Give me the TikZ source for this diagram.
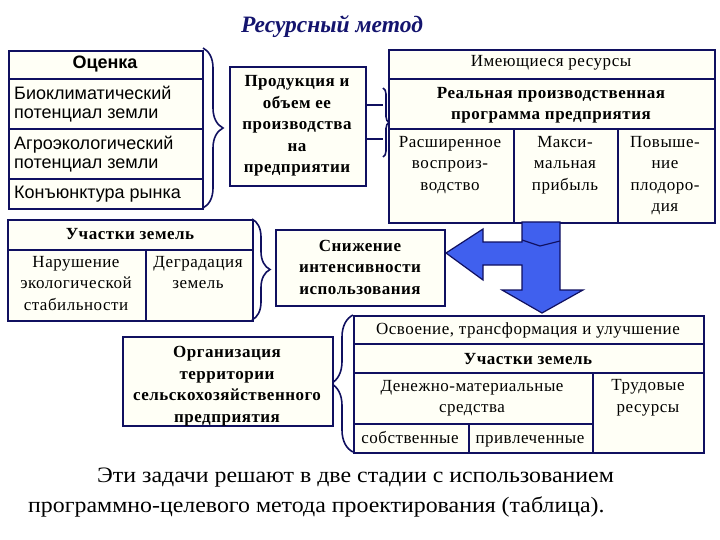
\documentclass[tikz,border=0pt]{standalone}
\usepackage{fontspec}
\setmainfont{Liberation Serif}
\newfontfamily\sansf{Liberation Sans}
\newfontfamily\cellfont[LetterSpace=3]{Liberation Serif}
\newfontfamily\bigfont[FakeStretch=1.085]{Liberation Serif}
\usetikzlibrary{decorations.pathreplacing,calc}
\definecolor{navy}{RGB}{16,16,96}
\definecolor{titleblue}{RGB}{20,20,110}
\definecolor{cream}{RGB}{255,255,246}
\definecolor{arrowblue}{RGB}{64,96,238}
\newcommand\mkcell[5]{\node[cellbox, minimum width={(#4)-(#2)}, minimum height={(#5)-(#3)}] (#1) at (#2,#3) {};}
\begin{document}
\begin{tikzpicture}[x=1pt,y=-1pt,
  cellbox/.style={draw=navy, line width=1.6pt, fill=cream, inner sep=0pt, anchor=north west},
  txt/.style={inner sep=0pt, align=center, font=\cellfont\fontsize{17}{21.5}\selectfont},
  btxt/.style={inner sep=0pt, align=center, font=\cellfont\fontsize{17}{21.5}\selectfont\bfseries},
  stxt/.style={inner sep=0pt, align=left, anchor=west, font=\sansf\fontsize{18}{19}\selectfont},
  bracestyle/.style={draw=navy, line width=1.6pt, decorate, decoration={brace, amplitude=#1}},
  conn/.style={draw=navy, line width=1.6pt},
  blue arrow/.style={draw=navy, line width=1.2pt, fill=arrowblue, line join=miter}
]
\useasboundingbox (0,0) rectangle (720,540);
\fill[white] (0,0) rectangle (720,540);

% title
\node[font=\fontsize{23.5}{26}\selectfont\bfseries\itshape, text=titleblue] (title) at (332,27) {Ресурсный метод};

% left table
\mkcell{oc}{8}{50}{202}{78}
\mkcell{bio}{8}{78}{202}{128}
\mkcell{agro}{8}{128}{202}{178}
\mkcell{kon}{8}{178}{202}{208}
\node[inner sep=0pt, font=\sansf\bfseries\fontsize{18}{19}\selectfont] (tOc) at (105,64) {Оценка};
\node[stxt] (tBio) at (14,104) {Биоклиматический\\потенциал земли};
\node[stxt] (tAgro) at (14,154) {Агроэкологический\\потенциал земли};
\node[stxt] (tKon) at (14,194) {Конъюнктура рынка};
\draw[bracestyle=20] (203,48) -- (203,208);

% production box
\mkcell{P}{229}{66}{365}{185}
\node[btxt] (tP) at (297,126) {Продукция и\\объем ее\\производства\\на\\предприятии};
\coordinate (k1) at (383,105);
\coordinate (k2) at (383,139);
\draw[conn] (P.east |- k1) -- (k1);
\draw[conn] (P.east |- k2) -- (k2);
\draw[bracestyle=6] (383,88) -- (383,157);

% right table
\mkcell{im}{388}{49}{714}{78}
\mkcell{real}{388}{78}{714}{128}
\mkcell{ras}{388}{128}{513}{222}
\mkcell{max}{513}{128}{617}{222}
\mkcell{pov}{617}{128}{714}{222}
\node[txt] (tIm) at (551,63) {Имеющиеся ресурсы};
\node[btxt] (tReal) at (551,105) {Реальная производственная\\программа предприятия};
\node[txt, anchor=north] (tRas) at (450,136) {Расширенное\\воспроиз-\\водство};
\node[txt, anchor=north] (tMax) at (565,136) {Макси-\\мальная\\прибыль};
\node[txt, anchor=north] (tPov) at (665,136) {Повыше-\\ние\\плодоро-\\дия};

% land plots table
\mkcell{uch}{7}{219}{252}{249}
\mkcell{nar}{7}{249}{145}{320}
\mkcell{deg}{145}{249}{252}{320}
\node[btxt] (tUch) at (130,234) {Участки земель};
\node[txt, anchor=north] (tNar) at (76,256) {Нарушение\\экологической\\стабильности};
\node[txt, anchor=north] (tDeg) at (198,256) {Деградация\\земель};
\draw[bracestyle=18] (252,219) -- (252,320);

% reduction box
\mkcell{S}{275}{229}{444}{305}
\node[btxt] (tS) at (360,267) {Снижение\\интенсивности\\использования};

% blue arrow
\draw[blue arrow] (522,222) -- (560,222) -- (560,290) -- (583,290) -- (542,313) -- (502,290) -- (522,290) -- (522,265) -- (483,265) -- (483,280) -- (446,253) -- (483,229) -- (483,242) -- (522,242) -- cycle;
\draw[navy, line width=1.2pt] (522,240) -- (540,246) -- (560,241);

% bottom table
\mkcell{osv}{353}{315}{703}{343}
\mkcell{uch2}{353}{343}{703}{372}
\mkcell{den}{353}{372}{592}{423}
\mkcell{trud}{592}{372}{703}{452}
\mkcell{sob}{353}{423}{468}{452}
\mkcell{pri}{468}{423}{592}{452}
\node[txt] (tOsv) at (528,330) {Освоение, трансформация и улучшение};
\node[btxt, anchor=base] (tUch2) at (528,364) {Участки земель};
\node[txt] (tDen) at (472,398) {Денежно-материальные\\средства};
\node[txt] (tTrud) at (648,398) {Трудовые\\ресурсы};
\node[txt, anchor=base] (tSob) at (410,443) {собственные};
\node[txt, anchor=base] (tPri) at (530,443) {привлеченные};
\draw[bracestyle=22] (353,452) -- (353,315);

% organisation box
\mkcell{O}{122}{336}{332}{425}
\node[btxt] (tO) at (227,386) {Организация\\территории\\сельскохозяйственного\\предприятия};

% bottom text
\node[anchor=west, inner sep=0pt, font=\bigfont\fontsize{22}{29}\selectfont] (l1) at (97,478) {Эти задачи решают в две стадии с использованием};
\node[anchor=west, inner sep=0pt, font=\bigfont\fontsize{22}{29}\selectfont] (l2) at (28,507) {программно-целевого метода проектирования (таблица).};
\end{tikzpicture}
\end{document}
